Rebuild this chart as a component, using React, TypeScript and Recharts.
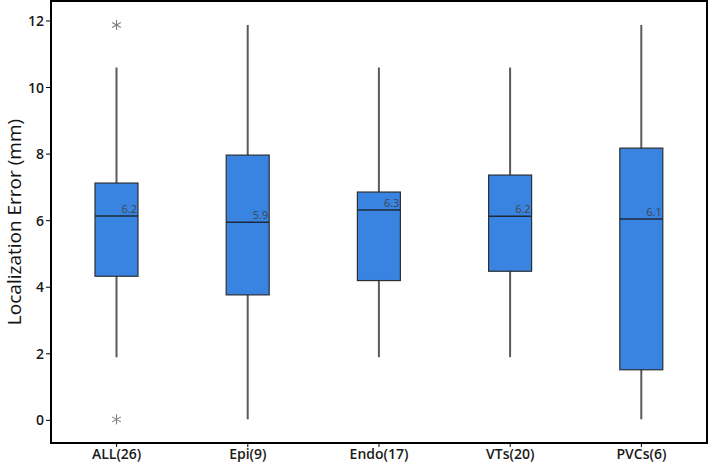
import React from 'react'
import { ComposedChart, Bar, XAxis, YAxis, Label, ReferenceArea } from 'recharts'

// box plot stats
const categories = ['ALL(26)', 'Epi(9)', 'Endo(17)', 'VTs(20)', 'PVCs(6)']
const minVals = [1.9, 0.03, 1.9, 1.9, 0.03]
const q1Vals = [4.33, 3.77, 4.2, 4.48, 1.52]
const medianVals = [6.14, 5.95, 6.32, 6.13, 6.05]
const q3Vals = [7.13, 7.97, 6.86, 7.37, 8.18]
const maxVals = [10.6, 11.88, 10.6, 10.6, 11.88]
const medianLabels = ['6.2', '5.9', '6.3', '6.2', '6.1']
const outliers: number[][] = [[11.88, 0.03], [], [], [], []]
const yTicks = [0, 2, 4, 6, 8, 10, 12]

const Y_MIN = -0.68
const Y_MAX = 12.6

const data = categories.map((name, i) => ({
  name,
  min: minVals[i],
  q1: q1Vals[i],
  median: medianVals[i],
  q3: q3Vals[i],
  max: maxVals[i],
  label: medianLabels[i],
  outliers: outliers[i],
}))

const FONT = '"Open Sans", "Noto Sans", sans-serif'

function BoxShape(props: any) {
  const { x, y, width, height, payload } = props
  if (payload == null || !isFinite(y) || !isFinite(height)) return null
  const top = Math.min(y, y + height)
  const h = Math.abs(height)
  const k = h / (payload.max - payload.min)
  const yOf = (v: number) => top + (payload.max - v) * k
  const cx = x + width / 2
  const yq3 = yOf(payload.q3)
  const yq1 = yOf(payload.q1)
  const ym = yOf(payload.median)
  return (
    <g>
      <line x1={cx} x2={cx} y1={yOf(payload.max)} y2={yOf(payload.min)} stroke="#5a5a5a" strokeWidth={2} />
      <rect x={x} y={yq3} width={width} height={yq1 - yq3} fill="#3984e0" stroke="#2b2f36" strokeWidth={1.2} />
      <line x1={x} x2={x + width} y1={ym} y2={ym} stroke="#1c2a3a" strokeWidth={1.5} />
      <text x={x + width - 1} y={ym - 3} textAnchor="end" fontSize={11} fill="#3d4450" fontFamily={FONT}>
        {payload.label}
      </text>
      {payload.outliers.map((o: number, j: number) => {
        const oy = yOf(o)
        const r = 5
        return (
          <g key={j} stroke="#808080" strokeWidth={1.1}>
            <line x1={cx} x2={cx} y1={oy - r} y2={oy + r} />
            <line x1={cx - r * 0.87} x2={cx + r * 0.87} y1={oy - r / 2} y2={oy + r / 2} />
            <line x1={cx - r * 0.87} x2={cx + r * 0.87} y1={oy + r / 2} y2={oy - r / 2} />
          </g>
        )
      })}
    </g>
  )
}

export default function App() {
  const tickStyle = { fontSize: 14, fill: '#1a1a1a', fontFamily: FONT, fontWeight: 600 }
  return (
    <div style={{ position: 'absolute', left: 0, top: 0, background: '#fff' }}>
      <ComposedChart width={709} height={467} data={data} margin={{ top: 1, right: 2, left: 0, bottom: 0 }}>
        <XAxis
          dataKey="name"
          height={24}
          tick={tickStyle}
          tickLine={{ stroke: '#000' }}
          tickSize={4}
          axisLine={{ stroke: '#000', strokeWidth: 2 }}
        />
        <YAxis
          width={51}
          domain={[Y_MIN, Y_MAX]}
          ticks={yTicks}
          allowDataOverflow
          tick={tickStyle}
          tickLine={{ stroke: '#000' }}
          tickSize={5}
          axisLine={{ stroke: '#000', strokeWidth: 2 }}
        >
          <Label
            value="Localization Error (mm)"
            angle={-90}
            position="insideLeft"
            offset={14}
            style={{ fontSize: 19, fill: '#111', fontFamily: FONT, textAnchor: 'middle' }}
          />
        </YAxis>
        <ReferenceArea y1={Y_MIN} y2={Y_MAX} fill="none" stroke="#000" strokeWidth={2} ifOverflow="visible" />
        <Bar
          dataKey={(d: any) => [d.min, d.max]}
          barSize={43}
          shape={<BoxShape />}
          isAnimationActive={false}
        />
      </ComposedChart>
    </div>
  )
}
